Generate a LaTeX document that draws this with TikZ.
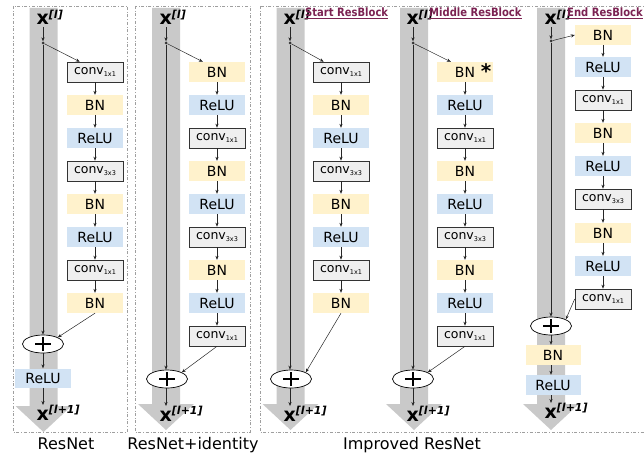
\documentclass[tikz,border=0pt]{standalone}
\usepackage{fontspec}
\setmainfont{DejaVu Sans}
\usetikzlibrary{arrows.meta,shapes.geometric}
\definecolor{bnc}{HTML}{FFF2CC}
\definecolor{reluc}{HTML}{D2E3F4}
\definecolor{convc}{HTML}{EFEFEF}
\definecolor{shaftc}{HTML}{C9C9C9}
\definecolor{linkc}{HTML}{7B2252}
\newcommand\cvsub[1]{{\fontsize{12.5}{12.5}\selectfont conv}\raisebox{-1.5pt}{\fontsize{6.5}{6.5}\selectfont #1}}
\newcommand\xlab[1]{{\fontsize{19}{19}\selectfont\bfseries x}\raisebox{6.5pt}{\fontsize{11}{11}\selectfont\bfseries\itshape [#1]}}
\newcommand\linklab[1]{\scalebox{0.87}[1]{\underline{#1}}}
\newcommand\shaftat[2]{\fill[shaftc] (#1-14,8) -- (#1+14,8) -- (#1+14,#2-26) -- (#1+28,#2-26) -- (#1,#2) -- (#1-28,#2-26) -- (#1-14,#2-26) -- cycle;}
\begin{document}
\begin{tikzpicture}[x=1pt,y=-1pt,
  blk/.style={minimum width=56pt, minimum height=20pt, inner sep=0pt, font=\fontsize{14}{14}\selectfont},
  bn/.style={blk, fill=bnc},
  relu/.style={blk, fill=reluc},
  conv/.style={blk, fill=convc, draw=black!80, line width=0.6pt},
  plus/.style={ellipse, draw, line width=0.7pt, fill=white, minimum width=41pt, minimum height=18pt, inner sep=0pt,
    path picture={\draw[line width=1.5pt] ([xshift=-8pt]path picture bounding box.center) -- ([xshift=8pt]path picture bounding box.center)
      ([yshift=-7pt]path picture bounding box.center) -- ([yshift=7pt]path picture bounding box.center);}},
  arr/.style={-{Stealth[length=4pt,width=3.2pt]}, line width=0.5pt, black!85},
  dotn/.style={circle, fill=black!80, inner sep=0pt, minimum size=3pt},
  panel/.style={draw=gray!75, dash dot, line width=0.6pt},
  xin/.style={anchor=base west, inner sep=0pt},
  linktxt/.style={anchor=base west, inner sep=0pt, text=linkc, font=\fontsize{11.5}{12}\selectfont\bfseries},
  startxt/.style={inner sep=0pt, font=\fontsize{20}{20}\selectfont\bfseries},
  captxt/.style={anchor=base, inner sep=0pt, font=\fontsize{16}{16}\selectfont}]
\useasboundingbox (0,0) rectangle (644,452);

% panels
\draw[panel] (13,6) rectangle (127,432);
\draw[panel] (135,6) rectangle (250,432);
\draw[panel] (260,6) rectangle (650,432);

% shafts
\shaftat{43.5}{432}
\shaftat{166}{430}
\shaftat{290.5}{430}
\shaftat{414}{430}
\shaftat{551}{430}

% captions
\node[captxt] (c1) at (66,449) {ResNet};
\node[captxt] (c2) at (193,449) {ResNet+identity};
\node[captxt] (c3) at (412,449) {Improved ResNet};

%% ---------- Panel 1: ResNet ----------
\node[xin] (xa) at (36.5,25) {\xlab{l}};
\node[dotn] (da) at (43,43) {};
\node[conv] (a1) at (95,72) {\cvsub{1x1}};
\node[bn]   (a2) at (95,105) {BN};
\node[relu] (a3) at (95,138) {ReLU};
\node[conv] (a4) at (95,171) {\cvsub{3x3}};
\node[bn]   (a5) at (95,204) {BN};
\node[relu] (a6) at (95,237) {ReLU};
\node[conv] (a7) at (95,270) {\cvsub{1x1}};
\node[bn]   (a8) at (95,303) {BN};
\node[plus] (pa) at (43,344) {};
\node[relu, minimum height=19pt] (ra) at (43,378) {ReLU};
\node[xin] (ya) at (36.5,420) {\xlab{l+1}};
\draw[arr] (da |- 0,27) -- (da);
\draw[arr] (da) -- (pa.north);
\draw[arr] (da) -- ([xshift=13pt]a1.north west);
\foreach \u/\v in {a1/a2,a2/a3,a3/a4,a4/a5,a5/a6,a6/a7,a7/a8} \draw[arr] (\u) -- (\v);
\draw[arr] (a8.south) -- (pa.north east);
\draw[arr] (pa) -- (ra);
\draw[arr] (ra.south) -- (ra.south |- 0,405);

%% ---------- Panel 2: ResNet+identity ----------
\node[xin] (xb) at (159.5,25) {\xlab{l}};
\node[dotn] (db) at (166,43) {};
\node[bn]   (b1) at (217,72) {BN};
\node[relu] (b2) at (217,105) {ReLU};
\node[conv] (b3) at (217,138) {\cvsub{1x1}};
\node[bn]   (b4) at (217,171) {BN};
\node[relu] (b5) at (217,204) {ReLU};
\node[conv] (b6) at (217,237) {\cvsub{3x3}};
\node[bn]   (b7) at (217,270) {BN};
\node[relu] (b8) at (217,303) {ReLU};
\node[conv] (b9) at (217,336) {\cvsub{1x1}};
\node[plus] (pb) at (167,379) {};
\node[xin] (yb) at (159.5,421) {\xlab{l+1}};
\draw[arr] (db |- 0,27) -- (db);
\draw[arr] (db) -- (db |- pb.north);
\draw[arr] (db) -- ([xshift=14pt]b1.north west);
\foreach \u/\v in {b1/b2,b2/b3,b3/b4,b4/b5,b5/b6,b6/b7,b7/b8,b8/b9} \draw[arr] (\u) -- (\v);
\draw[arr] (b9.south) -- (pb.north east);
\draw[arr] (db |- pb.south) -- (db |- 0,406);

%% ---------- Panel 3a: Start ResBlock ----------
\node[xin] (xc) at (283.5,25) {\xlab{l}};
\node[linktxt] (lc) at (305,17) {\linklab{Start ResBlock}};
\node[dotn] (dc) at (290,43) {};
\node[conv] (c1b) at (341,72) {\cvsub{1x1}};
\node[bn]   (c2b) at (341,105) {BN};
\node[relu] (c3b) at (341,138) {ReLU};
\node[conv] (c4b) at (341,171) {\cvsub{3x3}};
\node[bn]   (c5b) at (341,204) {BN};
\node[relu] (c6b) at (341,237) {ReLU};
\node[conv] (c7b) at (341,270) {\cvsub{1x1}};
\node[bn]   (c8b) at (341,303) {BN};
\node[plus] (pc) at (291,379) {};
\node[xin] (yc) at (283.5,421) {\xlab{l+1}};
\draw[arr] (dc |- 0,27) -- (dc);
\draw[arr] (dc) -- (dc |- pc.north);
\draw[arr] (dc) -- ([xshift=11pt]c1b.north west);
\foreach \u/\v in {c1b/c2b,c2b/c3b,c3b/c4b,c4b/c5b,c5b/c6b,c6b/c7b,c7b/c8b} \draw[arr] (\u) -- (\v);
\draw[arr] (c8b.south) -- (pc.north east);
\draw[arr] (dc |- pc.south) -- (dc |- 0,406);

%% ---------- Panel 3b: Middle ResBlock ----------
\node[xin] (xd) at (406.5,25) {\xlab{l}};
\node[linktxt] (ld) at (429,17) {\linklab{Middle ResBlock}};
\node[dotn] (dd) at (413,43) {};
\node[bn]   (d1) at (465,72) {BN};
\node[startxt] (st) at (486,71) {*};
\node[relu] (d2) at (465,105) {ReLU};
\node[conv] (d3) at (465,138) {\cvsub{1x1}};
\node[bn]   (d4) at (465,171) {BN};
\node[relu] (d5) at (465,204) {ReLU};
\node[conv] (d6) at (465,237) {\cvsub{3x3}};
\node[bn]   (d7) at (465,270) {BN};
\node[relu] (d8) at (465,303) {ReLU};
\node[conv] (d9) at (465,336) {\cvsub{1x1}};
\node[plus] (pd) at (413,379) {};
\node[xin] (yd) at (406.5,421) {\xlab{l+1}};
\draw[arr] (dd |- 0,27) -- (dd);
\draw[arr] (dd) -- (dd |- pd.north);
\draw[arr] (dd) -- ([xshift=14pt]d1.north west);
\foreach \u/\v in {d1/d2,d2/d3,d3/d4,d4/d5,d5/d6,d6/d7,d7/d8,d8/d9} \draw[arr] (\u) -- (\v);
\draw[arr] (d9.south) -- (pd.north east);
\draw[arr] (dd |- pd.south) -- (dd |- 0,406);

%% ---------- Panel 3c: End ResBlock ----------
\node[xin] (xe) at (544.5,25) {\xlab{l}};
\node[linktxt] (le) at (567,17) {\linklab{End ResBlock}};
\node[dotn] (de) at (551,41) {};
\node[bn]   (e1) at (603,35) {BN};
\node[relu] (e2) at (603,67) {ReLU};
\node[conv] (e3) at (603,100) {\cvsub{1x1}};
\node[bn]   (e4) at (603,133) {BN};
\node[relu] (e5) at (603,166) {ReLU};
\node[conv] (e6) at (603,199) {\cvsub{3x3}};
\node[bn]   (e7) at (603,233) {BN};
\node[relu] (e8) at (603,266) {ReLU};
\node[conv] (e9) at (603,299) {\cvsub{1x1}};
\node[plus] (pe) at (551,326) {};
\node[bn, minimum width=55pt]   (e10) at (553,355) {BN};
\node[relu, minimum width=55pt] (e11) at (553,385) {ReLU};
\node[xin] (ye) at (544.5,418) {\xlab{l+1}};
\draw[arr] (de |- 0,27) -- (de);
\draw[arr] (de) -- (pe.north);
\draw[arr] (de) -- (e1.west);
\foreach \u/\v in {e1/e2,e2/e3,e3/e4,e4/e5,e5/e6,e6/e7,e7/e8,e8/e9} \draw[arr] (\u) -- (\v);
\draw[arr] (e9.west) -- (pe.north east);
\draw[arr] (pe.south) -- (pe.south |- e10.north);
\draw[arr] (pe.south |- e10.south) -- (pe.south |- e11.north);
\draw[arr] (pe.south |- e11.south) -- (pe.south |- 0,403);
\end{tikzpicture}
\end{document}
